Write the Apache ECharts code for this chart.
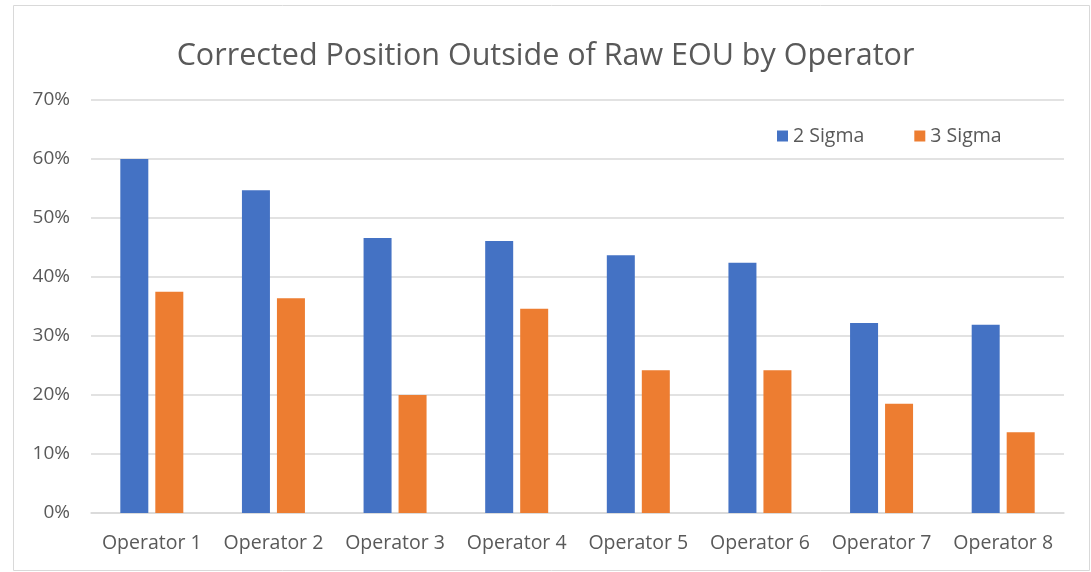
<!DOCTYPE html>
<html>
<head>
<meta charset="utf-8">
<script src="https://cdn.jsdelivr.net/npm/echarts@6/dist/echarts.min.js"></script>
<style>
  html, body { margin: 0; padding: 0; background: #fff; }
  #chart { width: 1091px; height: 572px; }
</style>
</head>
<body>
<div id="chart"></div>
<script>
const categories = ['Operator 1', 'Operator 2', 'Operator 3', 'Operator 4', 'Operator 5', 'Operator 6', 'Operator 7', 'Operator 8']
const twoSigma = [0.600, 0.547, 0.466, 0.461, 0.437, 0.424, 0.322, 0.319]
const threeSigma = [0.375, 0.364, 0.200, 0.346, 0.242, 0.242, 0.185, 0.137]
const yTicks = [0, 0.1, 0.2, 0.3, 0.4, 0.5, 0.6, 0.7]

const font = 'Open Sans'
const chart = echarts.init(document.getElementById('chart'))

chart.setOption({
  animation: false,
  color: ['#4472C4', '#ED7D31'],
  graphic: [{
    type: 'rect',
    shape: { x: 13.5, y: 5.5, width: 1076, height: 565 },
    style: { fill: 'none', stroke: '#d9d9d9', lineWidth: 1 },
    silent: true
  }],
  title: {
    text: 'Corrected Position Outside of Raw EOU by Operator',
    left: 'center',
    top: 36,
    textStyle: { fontFamily: font, fontSize: 30.5, fontWeight: 'normal', color: '#595959' }
  },
  legend: {
    data: ['2 Sigma', '3 Sigma'],
    top: 121,
    left: 772,
    itemWidth: 11,
    itemHeight: 11,
    itemGap: 50,
    icon: 'rect',
    textStyle: { fontFamily: font, fontSize: 19.5, color: '#595959' }
  },
  grid: { left: 91, right: 27, top: 100, bottom: 59, containLabel: false },
  xAxis: {
    type: 'category',
    data: categories,
    axisTick: { show: false },
    axisLine: { lineStyle: { color: '#d9d9d9', width: 1.5 } },
    axisLabel: { fontFamily: font, fontSize: 19.5, color: '#595959', margin: 20, interval: 0 }
  },
  yAxis: {
    type: 'value',
    min: 0,
    max: 0.7,
    interval: 0.1,
    axisLine: { show: false },
    axisTick: { show: false },
    splitLine: { lineStyle: { color: '#d9d9d9', width: 1.5 } },
    axisLabel: {
      fontFamily: font, fontSize: 19, color: '#595959', margin: 21,
      formatter: v => Math.round(v * 100) + '%'
    }
  },
  series: [
    { name: '2 Sigma', type: 'bar', data: twoSigma, barWidth: 28, barGap: '25%' },
    { name: '3 Sigma', type: 'bar', data: threeSigma, barWidth: 28, barGap: '25%' }
  ]
})
</script>
</body>
</html>
